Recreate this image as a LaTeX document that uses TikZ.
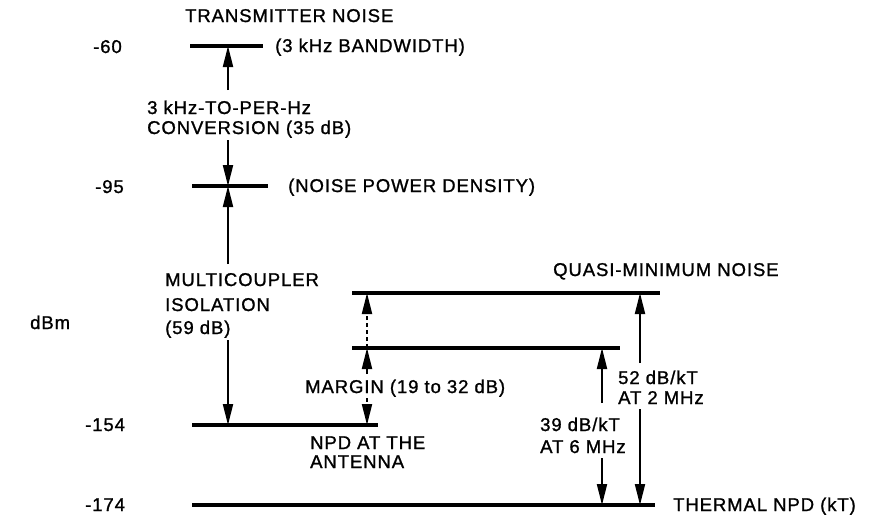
\documentclass[tikz,border=0pt]{standalone}
\usepackage{fontspec}
\newfontfamily\lbfont[LetterSpace=5,FakeBold=1.2]{Liberation Sans}
\usetikzlibrary{arrows.meta}
\begin{document}
\begin{tikzpicture}[x=1pt,y=-1pt,
  lbl/.style={anchor=base west,inner sep=0pt,font=\lbfont\fontsize{18.5}{21}\selectfont},
  level/.style={line width=3.6pt},
  dim/.style={line width=2pt,-{Triangle[length=21pt,width=10pt]}},
  dimdash/.style={dim,dash pattern=on 4pt off 3pt}]
\useasboundingbox (0,0) rectangle (871,515);
% level lines
\coordinate (a60) at (190,46);  \coordinate (b60) at (263,46);
\coordinate (a95) at (192,186); \coordinate (b95) at (268,186);
\coordinate (a154) at (192,425); \coordinate (b154) at (378,425);
\coordinate (a174) at (192,505); \coordinate (b174) at (655,505);
\coordinate (aq) at (352,293); \coordinate (bq) at (660,293);
\coordinate (am) at (352,348); \coordinate (bm) at (620,348);
\draw[level] (a60) -- (b60);
\draw[level] (a95) -- (b95);
\draw[level] (a154) -- (b154);
\draw[level] (a174) -- (b174);
\draw[level] (aq) -- (bq);
\draw[level] (am) -- (bm);
% labels
\node[lbl] (tn) at (185,22) {TRANSMITTER NOISE};
\node[lbl] (n60) at (93,53) {-60};
\node[lbl] (bw) at (275,52) {(3 kHz BANDWIDTH)};
\node[lbl] (cv1) at (147,114) {3 kHz-TO-PER-Hz};
\node[lbl] (cv2) at (147,134) {CONVERSION (35 dB)};
\node[lbl] (n95) at (95,193) {-95};
\node[lbl] (npd) at (288,192) {(NOISE POWER DENSITY)};
\node[lbl] (mc1) at (165,286) {MULTICOUPLER};
\node[lbl] (mc2) at (165,311) {ISOLATION};
\node[lbl] (mc3) at (165,334) {(59 dB)};
\node[lbl] (dbm) at (30,329) {dBm};
\node[lbl] (qm) at (553,276) {QUASI-MINIMUM NOISE};
\node[lbl] (mg) at (305,393) {MARGIN (19 to 32 dB)};
\node[lbl] (k52a) at (618,384) {52 dB/kT};
\node[lbl] (k52b) at (618,404) {AT 2 MHz};
\node[lbl] (n154) at (85,431) {-154};
\node[lbl] (ant1) at (310,449) {NPD AT THE};
\node[lbl] (ant2) at (310,468) {ANTENNA};
\node[lbl] (k39a) at (540,431) {39 dB/kT};
\node[lbl] (k39b) at (540,453) {AT 6 MHz};
\node[lbl] (n174) at (85,511) {-174};
\node[lbl] (th) at (673,511) {THERMAL NPD (kT)};
% dimension arrows
\coordinate (c1) at (228,46);  \coordinate (c1s) at (228,90);
\coordinate (c2s) at (228,140); \coordinate (c2) at (228,186);
\coordinate (c3s) at (228,264); \coordinate (c4s) at (228,340); \coordinate (c4) at (228,425);
\draw[dim] (c1s) -- (c1);
\draw[dim] (c2s) -- (c2);
\draw[dim] (c3s) -- (c2);
\draw[dim] (c4s) -- (c4);
\coordinate (m1) at (367,293); \coordinate (m2) at (367,348);
\coordinate (m3s) at (367,374); \coordinate (m4s) at (367,398); \coordinate (m4) at (367,425);
\draw[dimdash] (m2) -- (m1);
\draw[dim] (m3s) -- (m2);
\draw[dimdash] (m4s) -- (m4);
\coordinate (p1) at (602,348); \coordinate (p1s) at (602,403);
\coordinate (p2s) at (602,458); \coordinate (p2) at (602,505);
\draw[dim] (p1s) -- (p1);
\draw[dim] (p2s) -- (p2);
\coordinate (q1) at (640,293); \coordinate (q1s) at (640,363);
\coordinate (q2s) at (640,409); \coordinate (q2) at (640,505);
\draw[dim] (q1s) -- (q1);
\draw[dim] (q2s) -- (q2);
\end{tikzpicture}
\end{document}
